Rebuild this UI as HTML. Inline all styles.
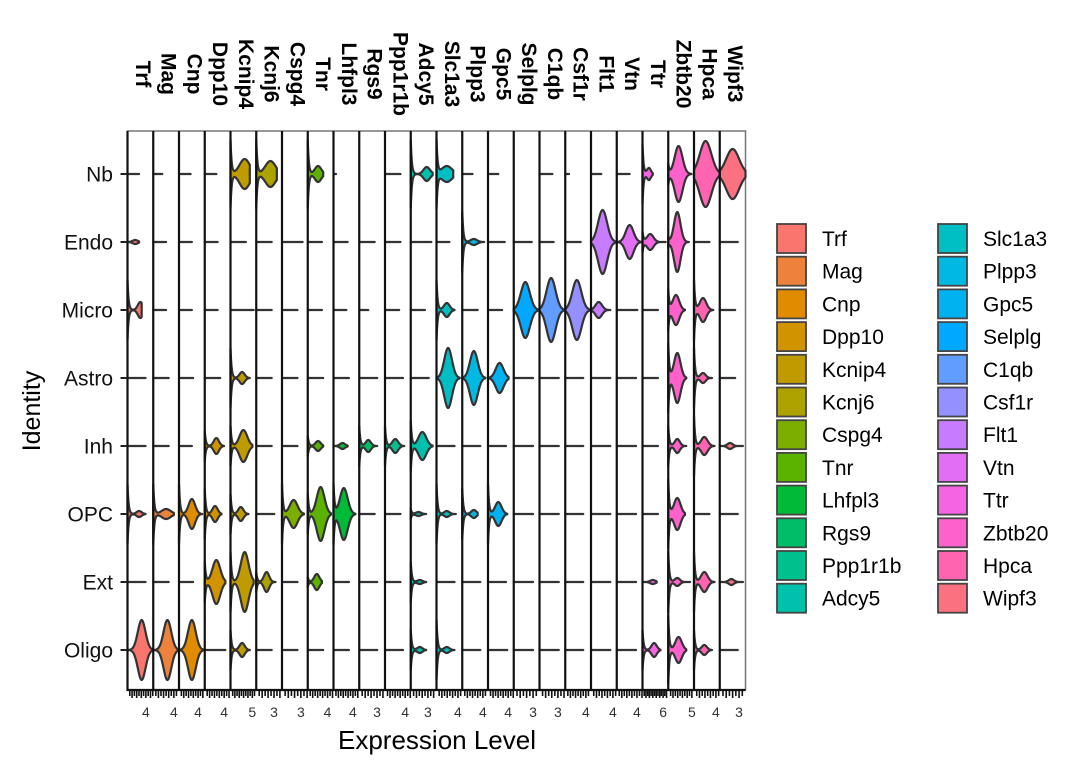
<!DOCTYPE html>
<html><head><meta charset="utf-8">
<style>
html,body{margin:0;padding:0;background:#fff;}
svg{display:block;font-family:"Liberation Sans",Arial,sans-serif;}
</style></head>
<body>
<svg id="chart" width="1080" height="771" viewBox="0 0 1080 771"></svg>
<script>
// ---- data ----
const genes = ["Trf","Mag","Cnp","Dpp10","Kcnip4","Kcnj6","Cspg4","Tnr","Lhfpl3","Rgs9","Ppp1r1b","Adcy5","Slc1a3","Plpp3","Gpc5","Selplg","C1qb","Csf1r","Flt1","Vtn","Ttr","Zbtb20","Hpca","Wipf3"];
const cellTypes = ["Nb","Endo","Micro","Astro","Inh","OPC","Ext","Oligo"];
const colors = ["#F8766D","#EC823C","#E08B00","#D29300","#C09B00","#ADA200","#7CAE00","#5BB300","#00BA38","#00BE67","#00C08E","#00C1AB","#00BFC4","#00B9E3","#00B2F0","#00A9FF","#619CFF","#9590FF","#C77CFF","#E36EF6","#F564E3","#FF61CC","#FF64B0","#FC717F"];
const tickValues = [4,4,4,4,5,3,3,4,4,3,4,3,4,4,4,3,3,4,4,4,6,5,4,3];
const axisMax = [5.6,5.0,5.4,5.3,5.9,4.35,4.1,5.2,5.3,4.35,5.1,4.5,4.8,5.0,5.1,4.0,4.2,5.0,4.7,5.1,7.5,5.45,4.7,4.0];
// per gene, per cell type (Nb..Oligo): extent of expression (fraction of axis)
const lineEnd = [
 [.45,.45,.55,.7,.7,.7,.7,.95],[.35,.5,.5,.6,.6,.8,.6,.95],[.45,.5,.5,.55,.5,.9,.55,.95],[.45,.5,.5,.6,.75,.65,.8,.8],
 [.75,.6,.9,.75,.85,.7,.9,.75],[.8,.6,.6,.6,.6,.7,.75,.6],[0,.8,.6,.6,.6,.85,.6,.6],[.6,.55,.55,.6,.6,.9,.55,.6],
 [.1,.55,.5,.6,.55,.85,.6,.6],[0,.6,.35,.7,.7,.6,.7,.7],[.6,.6,.55,.7,.75,.6,.6,.7],[.85,.8,.55,.7,.85,.6,.6,.6],
 [.65,.5,.7,.9,.7,.75,.7,.7],[.4,.85,.6,.9,.7,.6,.7,.7],[.4,.65,.55,.8,.7,.75,.7,.75],[0,.7,.95,.75,.75,.75,.75,.75],
 [.5,.55,.95,.75,.75,.75,.75,.75],[.15,.6,.95,.7,.7,.7,.7,.7],[.4,.95,.75,.75,.75,.75,.75,.75],[.5,.95,.8,.75,.75,.75,.75,.75],
 [.4,.9,.6,.6,.6,.6,.55,.7],[.9,.8,.65,.7,.7,.65,.85,.7],[1,.6,.75,.7,.8,.6,.8,.7],[1,.7,.6,.6,.9,.7,.9,.7]];
// position of density peak (fraction of axis)
const peakPos = [
 [0,.3,.5,0,0,.45,0,.55],[0,0,0,0,0,.5,0,.55],[0,0,0,0,0,.5,0,.5],[0,0,0,0,.45,.4,.45,0],
 [.55,0,0,.45,.5,.4,.55,.45],[.55,0,0,0,0,0,.4,0],[0,0,0,0,0,.45,0,0],[.4,0,0,0,.4,.5,.35,0],
 [0,0,0,0,.35,.4,0,0],[0,0,0,0,.35,0,0,0],[0,0,0,0,.4,0,0,0],[.62,0,0,0,.45,.3,.35,.35],
 [.4,0,.4,.45,0,.4,0,.4],[0,.45,0,.45,0,.45,0,0],[0,0,0,.45,0,.4,0,0],[0,0,.45,0,0,0,0,0],
 [0,0,.45,0,0,0,0,0],[0,0,.45,0,0,0,0,0],[0,.45,.3,0,0,0,0,0],[0,.5,0,0,0,0,0,0],
 [.25,.3,0,0,0,0,.4,.45],[.4,.35,.3,.35,.35,.35,.35,.4],[.45,0,.35,.35,.4,0,.4,.4],[.5,0,0,0,.4,0,.45,0]];
// half-height of density peak (px)
const peakHeight = [
 [0,2,8,0,0,3,0,30],[0,0,0,0,0,5,0,30],[0,0,0,0,0,15,0,30],[0,0,0,0,8,8,22,0],
 [15,0,0,6,16,7,30,7],[13,0,0,0,0,0,10,0],[0,0,0,0,0,14,0,0],[8,0,0,0,5,27,8,0],
 [0,0,0,0,3,26,0,0],[0,0,0,0,6,0,0,0],[0,0,0,0,7,0,0,0],[7,0,0,0,14,2,2,3],
 [8,0,7,30,0,3,0,3],[0,3,0,27,0,4,0,0],[0,0,0,15,0,12,0,0],[0,0,28,0,0,0,0,0],
 [0,0,32,0,0,0,0,0],[0,0,30,0,0,0,0,0],[0,32,8,0,0,0,0,0],[0,17,0,0,0,0,0,0],
 [6,8,0,0,0,0,2,7],[28,30,15,25,7,16,4,13],[33,0,12,5,9,0,10,5],[25,0,0,0,3,0,3,0]];
// spread of density peak (fraction of axis)
const peakWidth = [
 [.2,.2,.2,.2,.2,.2,.2,.3],[.2,.2,.2,.2,.2,.35,.2,.3],[.2,.2,.2,.2,.2,.25,.2,.3],[.2,.2,.2,.2,.2,.2,.3,.2],
 [.4,.2,.2,.2,.3,.2,.3,.2],[.4,.2,.2,.2,.2,.2,.2,.2],[.2,.2,.2,.2,.2,.3,.2,.2],[.25,.2,.2,.2,.2,.3,.2,.2],
 [.2,.2,.2,.2,.2,.3,.2,.2],[.2,.2,.2,.2,.2,.2,.2,.2],[.2,.2,.2,.2,.22,.2,.2,.2],[.25,.2,.2,.2,.3,.2,.2,.2],
 [.4,.2,.22,.3,.2,.2,.2,.2],[.2,.25,.2,.3,.2,.2,.2,.2],[.2,.2,.2,.3,.2,.25,.2,.2],[.2,.2,.35,.2,.2,.2,.2,.2],
 [.2,.2,.35,.2,.2,.2,.2,.2],[.2,.2,.35,.2,.2,.2,.2,.2],[.2,.35,.25,.2,.2,.2,.2,.2],[.2,.3,.2,.2,.2,.2,.2,.2],
 [.15,.25,.2,.2,.2,.2,.2,.2],[.3,.25,.25,.25,.2,.25,.2,.25],[.45,.2,.25,.2,.25,.2,.25,.2],[.5,.2,.2,.2,.2,.2,.2,.2]];
// half-height of the zero-expression spike (px)
const zeroSpike = [
 [0,0,30,0,0,30,0,0],[0,0,0,0,0,30,0,0],[0,0,0,0,0,30,0,0],[0,0,0,0,15,25,20,0],
 [34,0,0,30,20,20,30,20],[34,0,0,0,0,0,10,0],[0,0,0,0,0,30,0,0],[34,0,0,0,10,20,5,0],
 [0,0,0,0,0,30,0,0],[0,0,0,0,20,0,0,0],[0,0,0,0,20,0,0,0],[34,0,0,0,25,5,20,20],
 [34,0,30,0,0,30,0,30],[0,30,0,0,0,25,0,0],[0,0,0,0,0,30,0,0],[0,0,0,0,0,0,0,0],
 [0,0,0,0,0,0,0,0],[0,0,0,0,0,0,0,0],[0,0,0,0,0,0,0,0],[0,0,0,0,0,0,0,0],
 [30,10,0,0,0,0,0,20],[10,5,20,34,20,34,30,34],[0,0,30,30,30,0,30,20],[0,0,0,0,0,0,0,0]];

// ---- layout ----
const NS = "http://www.w3.org/2000/svg";
const svg = document.getElementById("chart");
const plotLeft = 127.5, panelW = 25.75, plotTop = 131, plotBottom = 690;
const rowY0 = 174, rowStep = 68;
function mk(tag, attrs, parent){ const e=document.createElementNS(NS,tag); for(const k in attrs) e.setAttribute(k,attrs[k]); (parent||svg).appendChild(e); return e; }
function xScale(g, v){ return plotLeft + g*panelW + (v/axisMax[g])*panelW; }
function fracX(g, f){ return plotLeft + g*panelW + f*panelW; }
function yScale(r){ return rowY0 + r*rowStep; }

// frame
const frame = mk("rect",{x:plotLeft,y:plotTop,width:panelW*genes.length,height:plotBottom-plotTop,fill:"none",stroke:"#777","stroke-width":1.5});



// violins
genes.forEach((gname,g)=>{
  const grp = mk("g",{});
  
  
  cellTypes.forEach((ct,r)=>{
    const end = lineEnd[g][r]; if(end<=0) return;
    const cy = yScale(r);
    const x0 = fracX(g,0), len = end*panelW;
    const n = 40, top=[], bot=[];
    for(let i=0;i<=n;i++){
      const px = len*i/n, t = px/panelW;
      let h = zeroSpike[g][r]*Math.exp(-px/1.1);
      const H = peakHeight[g][r];
      if(H>0){ const s = peakWidth[g][r]/2; h += H*Math.exp(-0.5*Math.pow((t-peakPos[g][r])/s,2)); }
      top.push([x0+px, cy-h]); bot.push([x0+px, cy+h]);
    }
    let d = "M"+top.map(p=>p[0].toFixed(2)+","+p[1].toFixed(2)).join("L");
    d += "L"+bot.reverse().map(p=>p[0].toFixed(2)+","+p[1].toFixed(2)).join("L")+"Z";
    const v = mk("path",{d:d,fill:colors[g],stroke:"#333","stroke-width":2.2,"stroke-linejoin":"round"},grp);
    
    
  });
});

// panel separators / axis lines
genes.forEach((gname,g)=>{
  const l = mk("line",{x1:fracX(g,0),x2:fracX(g,0),y1:plotTop,y2:plotBottom+1,stroke:"#111","stroke-width":2.2});
  
  
});
const xAxisLine = mk("line",{x1:plotLeft-1,x2:plotLeft+panelW*genes.length,y1:plotBottom,y2:plotBottom,stroke:"#111","stroke-width":2.2});



// x ticks & labels
genes.forEach((gname,g)=>{
  for(let v=0.5; v<axisMax[g]; v+=0.5){
    const major = Math.abs(v-Math.round(v))<1e-6;
    const tk = mk("line",{x1:xScale(g,v),x2:xScale(g,v),y1:plotBottom,y2:plotBottom+(major?8:6),stroke:"#111","stroke-width":1.6});
    
    
  }
  const tl = mk("text",{x:xScale(g,tickValues[g]),y:717,"font-size":14,"text-anchor":"middle",fill:"#333"});
  tl.textContent = tickValues[g];
  
  
  const gl = mk("text",{x:0,y:0,"font-size":21,"font-weight":"bold","text-anchor":"middle","dominant-baseline":"central",fill:"#000",transform:"translate("+(fracX(g,0.5)+2)+",74) rotate(90)"});
  gl.textContent = gname;
  
  
});

// y ticks & labels
cellTypes.forEach((ct,r)=>{
  const tk = mk("line",{x1:plotLeft-7,x2:plotLeft,y1:yScale(r),y2:yScale(r),stroke:"#222","stroke-width":2});
  
  
  const t = mk("text",{x:113,y:yScale(r)+7.5,"font-size":21,"text-anchor":"end",fill:"#111"});
  t.textContent = ct;
  
  
});

const yTitle = mk("text",{x:0,y:0,"font-size":25,"text-anchor":"middle",fill:"#000",transform:"translate(40,411) rotate(-90)"});
yTitle.textContent = "Identity";


const xTitle = mk("text",{x:437,y:749,"font-size":26,"text-anchor":"middle",fill:"#000"});
xTitle.textContent = "Expression Level";



// legend
const leg = mk("g",{});


genes.forEach((gname,i)=>{
  const col = Math.floor(i/12), row = i%12;
  const bx = 777 + col*161, by = 224 + row*32.7;
  const ent = mk("g",{},leg);
  
  
  mk("rect",{x:bx,y:by,width:29,height:29,fill:colors[i],stroke:"#444","stroke-width":1.8},ent);
  const t = mk("text",{x:bx+45,y:by+22,"font-size":21,fill:"#000"},ent);
  t.textContent = gname;
});
</script>
</body></html>
